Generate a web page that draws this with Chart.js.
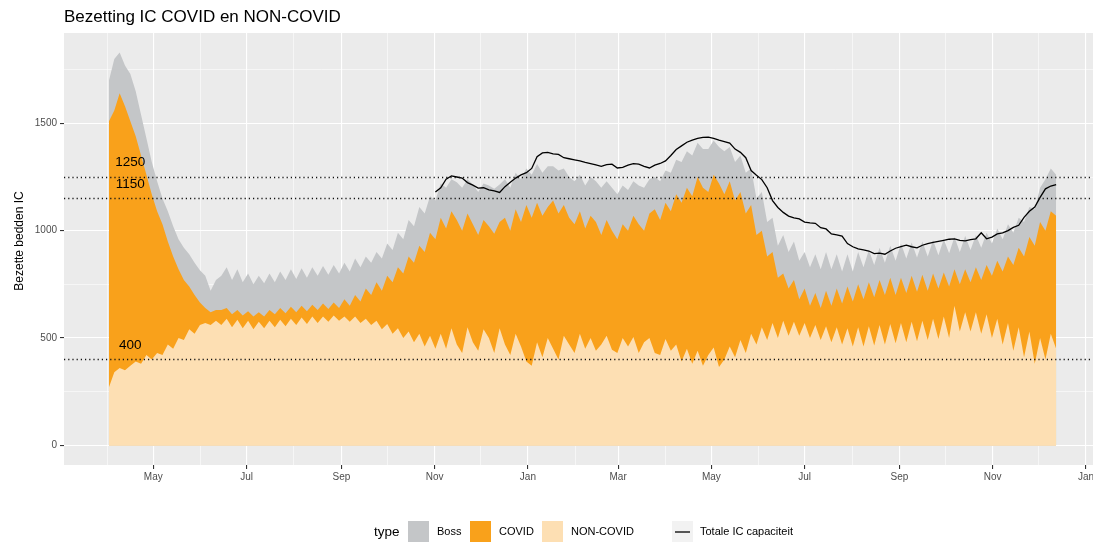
<!DOCTYPE html>
<html lang="nl">
<head>
  <meta charset="UTF-8">
  <title>Bezetting IC COVID en NON-COVID</title>
  <script src="https://cdn.jsdelivr.net/npm/chart.js"></script>
  <style>
    body { margin: 0; background: #fff; }
    canvas { display: block; }
  </style>
</head>
<body>
  <canvas id="icChart" width="1093" height="543"></canvas>

  <script>
    // tijdas: elke 3,5 dag vanaf 2 april 2020
    const startDate = Date.UTC(2020, 3, 2);
    const stepDays = 3.5;

    const nonCovid = [
      270, 340, 360, 350, 370, 390, 380, 420, 400, 430,
      420, 470, 450, 500, 490, 540, 520, 560, 570, 560,
      580, 560, 590, 550, 585, 545, 580, 540, 575, 545,
      580, 550, 585, 555, 590, 560, 595, 565, 600, 570,
      600, 575, 605, 580, 600, 575, 600, 570, 590, 560,
      580, 540, 565, 520, 545, 500, 530, 480, 520, 460,
      510, 450, 520, 450, 545, 470, 430, 550, 480, 440,
      540, 500, 430, 545, 470, 420, 520, 460, 390, 370,
      480, 410, 500, 450, 400, 510, 470, 430, 520, 450,
      500, 440, 470, 510, 445, 430, 500, 460, 505, 430,
      480, 500, 430, 420, 495, 440, 470, 390, 450, 380,
      440, 370, 420, 455, 365, 400, 460, 410, 490, 430,
      520, 470, 550, 490, 570, 500, 580, 510, 575, 510,
      570, 500, 560, 490, 555, 480, 550, 470, 545, 460,
      550, 460, 555, 465, 560, 470, 565, 475, 570, 480,
      575, 485, 580, 490, 590, 495, 600, 500, 650, 530,
      620, 530, 620, 520, 610, 500, 590, 470, 570, 440,
      550, 410, 530, 380, 500, 400, 520, 450
    ];

    const covid = [
      1240, 1220, 1280, 1230, 1140, 1050, 970, 840, 770, 660,
      610, 480, 430, 320, 280, 200, 180, 105, 70, 60,
      50, 70, 50, 60, 45, 60, 45, 60, 45, 55,
      50, 60, 55, 60, 55, 60, 55, 60, 55, 60,
      60, 60, 60, 60, 80, 75, 100, 100, 140, 140,
      180, 180, 225, 240, 285, 300, 350, 370, 410, 440,
      480, 510, 540, 560, 545, 580, 570, 530, 550, 540,
      510, 520, 555, 495, 590, 580, 580, 580, 730, 690,
      650, 660, 610, 690, 680, 610, 590, 600, 570, 560,
      570, 600, 510, 540, 555, 530, 530, 540, 565, 600,
      520, 580, 670, 630, 635, 650, 700, 740, 750, 780,
      810, 830, 760, 805, 855, 770, 770, 730, 690, 650,
      600, 510, 450, 390, 330, 280, 220, 220, 195, 170,
      160, 150, 150, 150, 165, 170, 180, 190, 195, 210,
      200, 220, 205, 225, 210, 230, 215, 225, 210, 230,
      215, 230, 215, 230, 210, 235, 205, 240, 170, 220,
      200, 230, 210, 250, 230, 290, 270, 340, 310, 400,
      370, 470, 440, 550, 540, 600, 570, 620
    ];

    const boss = [
      190, 240, 190, 190, 220, 210, 190, 170, 150, 140,
      120, 140, 140, 140, 150, 150, 150, 150, 150, 100,
      140, 160, 190, 160, 190, 155, 175, 150, 170, 155,
      170, 150, 170, 155, 175, 155, 175, 155, 175, 160,
      175, 160, 175, 160, 170, 160, 170, 160, 150, 150,
      140, 150, 150, 150, 160, 160, 170, 170, 180, 180,
      170, 180, 160, 190, 150, 175, 200, 160, 185, 200,
      170, 190, 210, 175, 180, 200, 170, 200, 170, 200,
      180, 200, 190, 160, 200, 170, 190, 200, 170, 200,
      180, 190, 220, 180, 200, 210, 180, 190, 160, 180,
      200, 160, 150, 180, 150, 180, 160, 190, 170, 190,
      160, 180, 200, 160, 170, 200, 160, 180, 170, 190,
      170, 170, 180, 160, 160, 150, 180, 170, 180, 180,
      170, 180, 180, 180, 180, 170, 160, 150, 150, 140,
      150, 150, 150, 150, 150, 150, 150, 160, 160, 160,
      155, 160, 155, 160, 155, 155, 155, 155, 150, 150,
      155, 150, 150, 150, 150, 150, 150, 150, 150, 150,
      140, 160, 140, 170, 160, 240, 200, 190
    ];

    // totale capaciteit, vanaf punt 61 (begin november 2020)
    const capacityFrom = 61;
    const capacity = [
      1180, 1200, 1240, 1255, 1250, 1245, 1224, 1212, 1198, 1200,
      1190, 1185, 1178, 1205, 1225, 1245, 1260, 1270, 1290, 1345,
      1362, 1365, 1358, 1355, 1340, 1335, 1330, 1325, 1318, 1312,
      1306, 1300, 1308, 1310, 1292, 1295, 1305, 1312, 1310, 1300,
      1292, 1305, 1313, 1325, 1350, 1378, 1395, 1412, 1422, 1430,
      1435, 1436, 1430, 1422, 1415, 1408, 1380, 1365, 1340, 1280,
      1258, 1238, 1200, 1140, 1108, 1085, 1068, 1060, 1055, 1040,
      1036, 1034, 1014, 1008, 985, 980, 975, 940, 925, 915,
      910, 905, 893, 895, 890, 905, 918, 925, 932, 925,
      920, 932, 940, 945, 950, 955, 960, 962, 955, 952,
      958, 962, 990, 962, 970, 985, 990, 1000, 1015, 1025,
      1062, 1090, 1110, 1155, 1195, 1208, 1215
    ];

    const refLines = [1250, 1150, 400];
    const refLabelDay = 14;
    const monthNames = ['Jan', 'Feb', 'Mar', 'Apr', 'May', 'Jun', 'Jul', 'Aug', 'Sep', 'Oct', 'Nov', 'Dec'];
    const yMajor = [0, 500, 1000, 1500];
    const yMinor = [250, 750, 1250, 1750];

    const days = nonCovid.map((_, i) => i * stepDays);
    const toPoints = (arr, from) => arr.map((v, k) => ({ x: days[from + k], y: v }));

    // maandgrenzen als ticks (april 2020 t/m januari 2022)
    const monthTicks = [];
    for (let y = 2020, m = 3; !(y === 2022 && m === 1); ) {
      const d = (Date.UTC(y, m, 1) - startDate) / 86400000;
      monthTicks.push({ value: d, name: monthNames[m], major: m % 2 === 0 });
      m++;
      if (m > 11) { m = 0; y++; }
    }

    Chart.defaults.font.family = '"Liberation Sans", Arial, sans-serif';

    const panelBg = {
      id: 'panelBg',
      beforeDraw(chart) {
        const { ctx, chartArea: a } = chart;
        ctx.save();
        ctx.fillStyle = '#EBEBEB';
        ctx.fillRect(a.left, a.top, a.right - a.left, a.bottom - a.top);
        ctx.restore();
      }
    };

    const refLinePlugin = {
      id: 'refLines',
      afterDatasetsDraw(chart) {
        const { ctx, chartArea: a, scales } = chart;
        ctx.save();
        ctx.strokeStyle = '#111';
        ctx.lineWidth = 1.4;
        ctx.setLineDash([1.2, 3]);
        refLines.forEach(v => {
          const y = Math.round(scales.y.getPixelForValue(v)) + 0.5;
          ctx.beginPath();
          ctx.moveTo(a.left, y);
          ctx.lineTo(a.right, y);
          ctx.stroke();
        });
        ctx.setLineDash([]);
        ctx.fillStyle = '#000';
        ctx.font = '13.5px "Liberation Sans", Arial, sans-serif';
        ctx.textAlign = 'center';
        ctx.textBaseline = 'middle';
        const lx = scales.x.getPixelForValue(refLabelDay);
        refLines.forEach(v => {
          ctx.fillText(String(v), lx, scales.y.getPixelForValue(v) - 14.5);
        });
        ctx.restore();
      }
    };

    const textPlugin = {
      id: 'texts',
      afterDraw(chart) {
        const { ctx, chartArea: a } = chart;
        ctx.save();
        // titel
        ctx.fillStyle = '#000';
        ctx.font = '17px "Liberation Sans", Arial, sans-serif';
        ctx.textBaseline = 'middle';
        ctx.textAlign = 'left';
        ctx.fillText('Bezetting IC COVID en NON-COVID', 64, 17);
        // y-as titel
        ctx.save();
        ctx.translate(20, (a.top + a.bottom) / 2 - 8);
        ctx.rotate(-Math.PI / 2);
        ctx.textAlign = 'center';
        ctx.font = '12px "Liberation Sans", Arial, sans-serif';
        ctx.fillText('Bezette bedden IC', 0, 0);
        ctx.restore();

        // legenda
        const ly = 532;
        ctx.font = '13.5px "Liberation Sans", Arial, sans-serif';
        ctx.fillText('type', 374, ly);
        ctx.font = '11px "Liberation Sans", Arial, sans-serif';
        const ds = chart.data.datasets;
        const items = [ds[2], ds[1], ds[0]];
        const keyX = [408, 470, 542];
        items.forEach((d, k) => {
          ctx.fillStyle = d.backgroundColor;
          ctx.fillRect(keyX[k], ly - 11, 21, 21);
          ctx.fillStyle = '#000';
          ctx.fillText(d.label, keyX[k] + 29, ly);
        });
        ctx.fillStyle = '#F2F2F2';
        ctx.fillRect(672, ly - 11, 21, 21);
        ctx.strokeStyle = ds[3].borderColor;
        ctx.lineWidth = 1.3;
        ctx.beginPath();
        ctx.moveTo(675, ly);
        ctx.lineTo(690, ly);
        ctx.stroke();
        ctx.fillStyle = '#000';
        ctx.fillText(ds[3].label, 700, ly);
        ctx.restore();
      }
    };

    new Chart(document.getElementById('icChart'), {
      type: 'line',
      data: {
        datasets: [
          {
            label: 'NON-COVID',
            data: toPoints(nonCovid, 0),
            backgroundColor: '#FDDFB3',
            fill: 'origin',
            borderWidth: 0,
            pointRadius: 0,
            stack: 'ic'
          },
          {
            label: 'COVID',
            data: toPoints(covid, 0),
            backgroundColor: '#F9A11B',
            fill: 'origin',
            borderWidth: 0,
            pointRadius: 0,
            stack: 'ic'
          },
          {
            label: 'Boss',
            data: toPoints(boss, 0),
            backgroundColor: '#C4C6C8',
            fill: 'origin',
            borderWidth: 0,
            pointRadius: 0,
            stack: 'ic'
          },
          {
            label: 'Totale IC capaciteit',
            data: toPoints(capacity, capacityFrom),
            borderColor: '#000000',
            borderWidth: 1.3,
            fill: false,
            pointRadius: 0,
            stack: 'cap',
            order: -1
          }
        ]
      },
      options: {
        responsive: false,
        animation: false,
        layout: { padding: { top: 33, left: 0, right: 0, bottom: 58 } },
        plugins: {
          legend: { display: false },
          title: { display: false },
          tooltip: { enabled: false }
        },
        scales: {
          x: {
            type: 'linear',
            min: -29.4,
            max: 643.6,
            afterBuildTicks: scale => {
              scale.ticks = monthTicks.map(t => ({ value: t.value, isMajor: t.major, name: t.name }));
            },
            afterFit: scale => {
              scale.height = 20;
              scale.paddingLeft = 0;
              scale.paddingRight = 0;
            },
            ticks: {
              autoSkip: false,
              maxRotation: 0,
              padding: 2,
              color: '#4D4D4D',
              font: { size: 10 },
              callback: (value, index, ticks) => ticks[index].isMajor ? ticks[index].name : ''
            },
            border: { display: false },
            grid: {
              color: '#FFFFFF',
              lineWidth: ctx => (ctx.tick && ctx.tick.isMajor) ? 1.1 : 0.55,
              tickLength: 4,
              tickColor: ctx => (ctx.tick && ctx.tick.isMajor) ? '#333333' : 'rgba(0,0,0,0)'
            }
          },
          y: {
            stacked: true,
            min: -92,
            max: 1921,
            afterBuildTicks: scale => {
              scale.ticks = yMajor.concat(yMinor).sort((p, q) => p - q).map(v => ({ value: v }));
            },
            afterFit: scale => { scale.width = 64; },
            ticks: {
              padding: 3,
              color: '#4D4D4D',
              font: { size: 10 },
              callback: v => yMajor.includes(v) ? String(v) : ''
            },
            border: { display: false },
            grid: {
              color: '#FFFFFF',
              lineWidth: ctx => (ctx.tick && yMajor.includes(ctx.tick.value)) ? 1.1 : 0.55,
              tickLength: 4,
              tickColor: ctx => (ctx.tick && yMajor.includes(ctx.tick.value)) ? '#333333' : 'rgba(0,0,0,0)'
            }
          }
        }
      },
      plugins: [panelBg, refLinePlugin, textPlugin]
    });
  </script>
</body>
</html>
